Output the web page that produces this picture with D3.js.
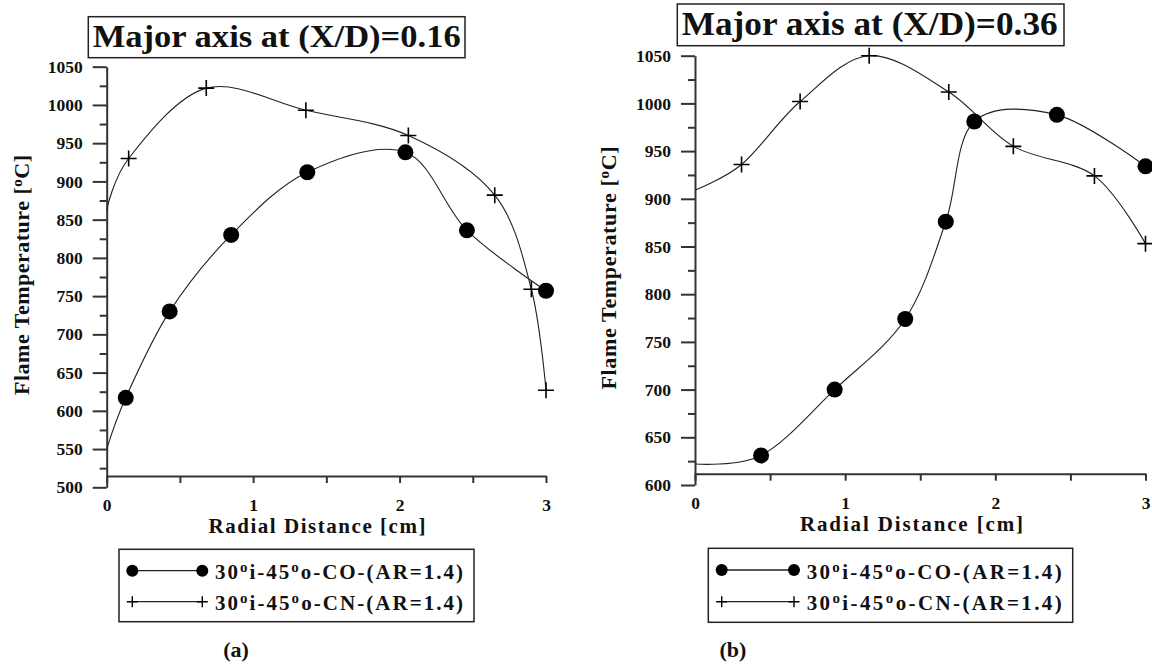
<!DOCTYPE html>
<html>
<head>
<meta charset="utf-8">
<script src="https://cdn.jsdelivr.net/npm/d3@7"></script>
<style>
  html, body { margin: 0; padding: 0; background: #fff; }
  svg { display: block; }
  text { font-family: "Liberation Serif", "Times New Roman", serif; font-weight: bold; fill: #111; }
</style>
</head>
<body>
<svg id="chart" width="1152" height="665"></svg>
<script>
// Radial axis (cm) shared by both panels
const radialTicks = [0, 1, 2, 3];
const radialMinorTicks = [0.5, 1.5, 2.5];

// Panel (a): X/D = 0.16
const titleA = "Major axis at (X/D)=0.16";
const tempTicksA = [500, 550, 600, 650, 700, 750, 800, 850, 900, 950, 1000, 1050];
const tempMinorA = [525, 575, 625, 675, 725, 775, 825, 875, 925, 975, 1025];
const coCentreA = 550;
const coRadiusA = [0.13, 0.43, 0.85, 1.37, 2.04, 2.46, 3.0];
const coTempA   = [617, 730, 830, 912, 938, 836, 757];
const cnCentreA = 863;
const cnRadiusA = [0.15, 0.68, 1.36, 2.06, 2.65, 2.9, 3.0];
const cnTempA   = [930, 1022, 993, 960, 882, 759, 627];

// Panel (b): X/D = 0.36
const titleB = "Major axis at (X/D)=0.36";
const tempTicksB = [600, 650, 700, 750, 800, 850, 900, 950, 1000, 1050];
const tempMinorB = [625, 675, 725, 775, 825, 875, 925, 975, 1025];
const coCentreB = 622;
const coRadiusB = [0.44, 0.93, 1.40, 1.67, 1.86, 2.41, 3.0];
const coTempB   = [631, 700, 774, 876, 981, 988, 934];
const cnCentreB = 909;
const cnRadiusB = [0.31, 0.70, 1.16, 1.69, 2.12, 2.66, 3.0];
const cnTempB   = [936, 1002, 1050, 1012, 955, 924, 853];

// Legend entries
const seriesLabels = [
  { parts: ["30", "o", "i-45", "o", "o-CO-(AR=1.4)"], marker: "circle" },
  { parts: ["30", "o", "i-45", "o", "o-CN-(AR=1.4)"], marker: "plus" }
];

const svg = d3.select("#chart");
const axisColor = "#333";
const serif = '"Liberation Serif", "Times New Roman", serif';

function drawPanel(cfg) {
  const g = svg.append("g");
  const x = d3.scaleLinear().domain([0, 3]).range([cfg.left, cfg.right]);
  const y = d3.scaleLinear().domain([cfg.tempTicks[0], cfg.tempTicks[cfg.tempTicks.length - 1]])
              .range([cfg.bottom, cfg.top]);

  // title box
  const tb = g.append("g");
  tb.append("rect").attr("x", cfg.titleBox[0]).attr("y", cfg.titleBox[1])
    .attr("width", cfg.titleBox[2]).attr("height", cfg.titleBox[3])
    .attr("fill", "#fff").attr("stroke", "#222").attr("stroke-width", 1.5);
  tb.append("text").attr("x", cfg.titleText[0]).attr("y", cfg.titleText[1])
    .attr("font-size", cfg.titleText[2])
    .attr("textLength", cfg.titleText[3]).attr("lengthAdjust", "spacingAndGlyphs")
    .text(cfg.title);

  // y axis: major ticks with labels
  const yAxis = g.append("g").attr("transform", `translate(${cfg.left},0)`)
    .call(d3.axisLeft(y).tickValues(cfg.tempTicks).tickSize(14).tickSizeOuter(0).tickPadding(10)
      .tickFormat(d3.format("d")));
  // y axis: minor ticks
  const yMinor = g.append("g").attr("transform", `translate(${cfg.left},0)`)
    .call(d3.axisLeft(y).tickValues(cfg.tempMinor).tickSize(7).tickSizeOuter(0).tickFormat(""));
  yMinor.select(".domain").remove();

  // x axis sits just above the lowest temperature tick
  const xAxis = g.append("g").attr("transform", `translate(0,${cfg.xAxisY})`)
    .call(d3.axisBottom(x).tickValues(radialTicks).tickSize(7).tickSizeOuter(0).tickPadding(16)
      .tickFormat(d3.format("d")));
  const xMinor = g.append("g").attr("transform", `translate(0,${cfg.xAxisY})`)
    .call(d3.axisBottom(x).tickValues(radialMinorTicks).tickSize(7).tickSizeOuter(0).tickFormat(""));
  xMinor.select(".domain").remove();

  [yAxis, yMinor, xAxis, xMinor].forEach(a => {
    a.selectAll("path, line").attr("stroke", axisColor).attr("stroke-width", 2);
    a.selectAll("text").attr("font-size", 17.5).attr("fill", "#111")
      .attr("font-family", serif).attr("font-weight", "bold");
  });

  // axis titles
  g.append("text").attr("x", cfg.xTitle[0]).attr("y", cfg.xTitle[1])
    .attr("font-size", 21).attr("text-anchor", "middle")
    .attr("textLength", cfg.xTitle[2]).attr("lengthAdjust", "spacing")
    .text("Radial Distance [cm]");
  const yt = g.append("text")
    .attr("transform", `translate(${cfg.yTitle[0]},${cfg.yTitle[1]}) rotate(-90)`)
    .attr("font-size", 22).attr("text-anchor", "middle")
    .attr("textLength", cfg.yTitle[2]).attr("lengthAdjust", "spacing");
  yt.append("tspan").text("Flame Temperature [");
  yt.append("tspan").attr("font-size", 15).attr("dy", -7).text("o");
  yt.append("tspan").attr("dy", 7).text("C]");

  // curves
  const line = d3.line().x(d => x(d[0])).y(d => y(d[1])).curve(d3.curveCatmullRom.alpha(0.15));
  const coPts = [[0, cfg.coCentre]].concat(cfg.coR.map((r, i) => [r, cfg.coT[i]]));
  const cnPts = [[0, cfg.cnCentre]].concat(cfg.cnR.map((r, i) => [r, cfg.cnT[i]]));
  [coPts, cnPts].forEach(pts => {
    g.append("path").attr("d", line(pts)).attr("fill", "none")
      .attr("stroke", "#222").attr("stroke-width", 1.1);
  });

  // markers
  g.selectAll(null).data(cfg.coR.map((r, i) => [r, cfg.coT[i]])).join("circle")
    .attr("cx", d => x(d[0])).attr("cy", d => y(d[1])).attr("r", 8).attr("fill", "#000");
  g.selectAll(null).data(cfg.cnR.map((r, i) => [r, cfg.cnT[i]])).join("path")
    .attr("d", d => `M${x(d[0]) - 8},${y(d[1])}H${x(d[0]) + 8}M${x(d[0])},${y(d[1]) - 8}V${y(d[1]) + 8}`)
    .attr("stroke", "#000").attr("stroke-width", 1.6).attr("fill", "none");

  // legend
  const lg = g.append("g");
  lg.append("rect").attr("x", cfg.legend.x).attr("y", cfg.legend.y)
    .attr("width", cfg.legend.w).attr("height", cfg.legend.h)
    .attr("fill", "#fff").attr("stroke", "#222").attr("stroke-width", 1.5);
  seriesLabels.forEach((s, i) => {
    const ry = cfg.legend.rows[i];
    const x1 = cfg.legend.lineX[0], x2 = cfg.legend.lineX[1];
    lg.append("line").attr("x1", x1).attr("x2", x2).attr("y1", ry).attr("y2", ry)
      .attr("stroke", "#222").attr("stroke-width", 1.3);
    [x1, x2].forEach(px => {
      if (s.marker === "circle") {
        lg.append("circle").attr("cx", px).attr("cy", ry).attr("r", 6).attr("fill", "#000");
      } else {
        lg.append("path").attr("d", `M${px - 5.5},${ry}H${px + 5.5}M${px},${ry - 5.5}V${ry + 5.5}`)
          .attr("stroke", "#000").attr("stroke-width", 1.4);
      }
    });
    const t = lg.append("text").attr("x", cfg.legend.textX).attr("y", ry + 8.5)
      .attr("font-size", 21).attr("textLength", cfg.legend.textW).attr("lengthAdjust", "spacing");
    s.parts.forEach((p, k) => {
      const sup = k === 1 || k === 3;
      const ts = t.append("tspan").text(p);
      if (sup) ts.attr("font-size", 15).attr("dy", -7);
      else if (k > 0) ts.attr("dy", 7);
    });
  });

  // panel tag
  g.append("text").attr("x", cfg.tag[0]).attr("y", cfg.tag[1]).attr("font-size", 22)
    .attr("text-anchor", "middle").text(cfg.tagText);
}

drawPanel({
  title: titleA, tagText: "(a)",
  left: 106.7, right: 546, top: 66.7, bottom: 487.3, xAxisY: 476,
  tempTicks: tempTicksA, tempMinor: tempMinorA,
  coCentre: coCentreA, coR: coRadiusA, coT: coTempA,
  cnCentre: cnCentreA, cnR: cnRadiusA, cnT: cnTempA,
  titleBox: [88.3, 16.7, 376.7, 41], titleText: [92.7, 46.7, 31, 368],
  xTitle: [317, 533, 217], yTitle: [29, 275, 240],
  legend: { x: 119, y: 549.3, w: 355, h: 72.4, rows: [570.7, 601.7], lineX: [132.3, 202.3], textX: 215, textW: 248 },
  tag: [236, 657]
});

drawPanel({
  title: titleB, tagText: "(b)",
  left: 695, right: 1145.5, top: 55.7, bottom: 485, xAxisY: 473.7,
  tempTicks: tempTicksB, tempMinor: tempMinorB,
  coCentre: coCentreB, coR: coRadiusB, coT: coTempB,
  cnCentre: cnCentreB, cnR: cnRadiusB, cnT: cnTempB,
  titleBox: [677.3, 4, 386.7, 41.7], titleText: [681.7, 35, 33, 376],
  xTitle: [911.5, 531, 223], yTitle: [616, 268, 243],
  legend: { x: 708.3, y: 548.3, w: 364.4, h: 74, rows: [570, 601.7], lineX: [721.7, 794], textX: 806.7, textW: 255 },
  tag: [733, 657]
});
</script>
</body>
</html>
